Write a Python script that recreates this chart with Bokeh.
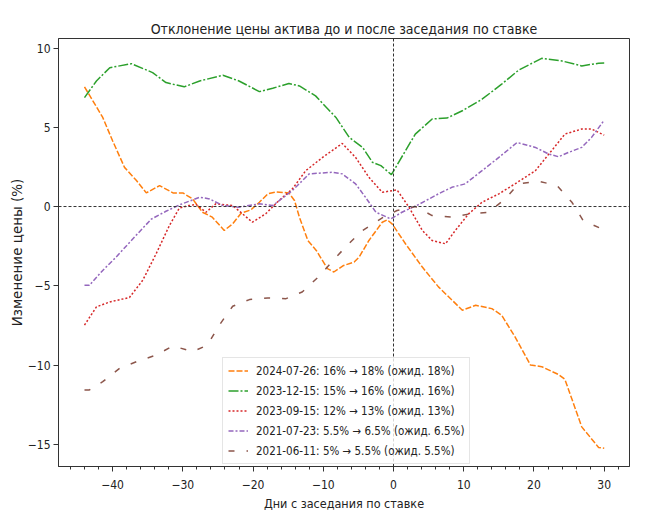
from bokeh.plotting import figure
from bokeh.models import Span, SingleIntervalTicker, CustomJSTickFormatter, Range1d
from bokeh.embed import file_html
from bokeh.resources import INLINE

TITLE = "Отклонение цены актива до и после заседания по ставке"
X_LABEL = "Дни с заседания по ставке"
Y_LABEL = "Изменение цены (%)"

labels = [
    "2024-07-26: 16% \u2192 18% (ожид. 18%)",
    "2023-12-15: 15% \u2192 16% (ожид. 16%)",
    "2023-09-15: 12% \u2192 13% (ожид. 13%)",
    "2021-07-23: 5.5% \u2192 6.5% (ожид. 6.5%)",
    "2021-06-11: 5% \u2192 5.5% (ожид. 5.5%)",
]

days_2024_07 = [-44, -41.4, -40, -38.3, -36.6, -35.2, -33.3, -31.4, -30, -28.6, -27.2, -25.8, -24.1, -22.9,
                -21.7, -20.3, -19.1, -17.9, -16.7, -14.9, -14.1, -13.4, -12.2, -11, -9.4, -8.5, -7.2, -5.6,
                -4.9, -3.5, -1.6, -0.9, -0.2, 1.7, 4.1, 6.4, 9.8, 11.7, 14, 15.4, 17.3, 19.5, 21.1, 23.5,
                24.4, 26.8, 29.2, 30]
vals_2024_07 = [7.55, 5.62, 4.15, 2.47, 1.64, 0.86, 1.32, 0.86, 0.86, 0.48, -0.36, -0.67, -1.51, -1.09,
                -0.42, -0.21, 0.27, 0.8, 0.92, 0.86, 0.38, -0.67, -2.14, -2.77, -3.92, -4.13, -3.74, -3.5,
                -3.19, -2.14, -0.99, -0.84, -1.09, -2.35, -3.82, -5.07, -6.54, -6.23, -6.44, -6.86, -8.22,
                -10.0, -10.1, -10.6, -10.9, -13.9, -15.2, -15.25]

days_2023_12 = [-44, -42.3, -40.4, -37.3, -34.3, -32.4, -29.8, -27.6, -24.3, -22, -19.1, -17.2, -14.9, -13.4,
                -11.1, -8.2, -6.3, -4.4, -3.0, -1.8, -0.3, 1.7, 3.1, 5.5, 7.6, 9.8, 12.6, 15.4, 17.8, 21.1,
                24, 26.8, 29.2, 30]
vals_2023_12 = [6.87, 7.92, 8.76, 9.01, 8.45, 7.82, 7.55, 7.92, 8.28, 7.92, 7.25, 7.46, 7.76, 7.61,
                6.98, 5.62, 4.36, 3.73, 2.79, 2.58, 2.01, 3.52, 4.57, 5.52, 5.58, 6.04, 6.77, 7.72, 8.6, 9.35,
                9.18, 8.87, 9.04, 9.05]

days_2023_09 = [-44, -42.3, -40.4, -37.6, -35.7, -33.8, -31.9, -30.5, -29.1, -28.1, -26.7, -25.3, -22.9,
                -21.5, -20.1, -18.2, -16.3, -14.4, -12.5, -10.1, -7.3, -5.4, -3.5, -1.6, 0.5, 2.2, 4.1, 5.5,
                7.4, 8.8, 10.7, 12.6, 15, 17.3, 20.2, 22.5, 24.4, 26.8, 28.2, 30]
vals_2023_09 = [-7.48, -6.33, -6.02, -5.74, -4.65, -2.98, -1.19, -0.1, 0.06, 0.13, -0.36, 0.17, 0.06,
                -0.46, -0.99, -0.46, 0.38, 1.11, 2.26, 3.1, 3.98, 3.1, 1.84, 0.9, 1.05, -0.04, -1.51, -2.14,
                -2.35, -1.51, -0.46, 0.27, 0.8, 1.43, 2.26, 3.52, 4.57, 4.89, 4.89, 4.5]

days_2021_07 = [-44, -43.3, -41.4, -39.5, -37.1, -34.5, -32.4, -30.5, -29, -27.6, -26.2, -24.3, -22, -19.1,
                -17.2, -14.4, -12, -8.7, -7.3, -5.4, -4, -2.5, -0.4, 1.2, 3.6, 6.4, 8.3, 10.2, 12.6, 15,
                17.6, 20.2, 22.1, 23.5, 24.9, 26.8, 28.2, 30]
vals_2021_07 = [-4.97, -4.97, -4.03, -3.19, -2.03, -0.8, -0.3, 0.1, 0.35, 0.59, 0.48, 0.06, -0.04, 0.17,
                0.06, 1.01, 2.06, 2.16, 2.06, 1.43, 0.59, -0.36, -0.78, -0.36, 0.13, 0.8, 1.21, 1.43, 2.26,
                3.1, 4.04, 3.73, 3.31, 3.14, 3.41, 3.73, 4.36, 5.45]

days_2021_06 = [-44, -43.3, -41.4, -39, -36.6, -33.8, -31.4, -28.6, -26.5, -24.8, -22.9, -20.5, -17.9, -15.3,
                -13, -10.6, -8.5, -6.5, -4.4, -1.6, 0.5, 3.1, 5.5, 8.3, 10.9, 13.5, 15.9, 17.8, 20.7, 23.3,
                25.4, 27, 29.3, 30]
vals_2021_06 = [-11.57, -11.57, -11.05, -10.21, -9.79, -9.37, -8.79, -9.16, -8.74, -7.48, -6.29, -5.87, -5.77,
                -5.81, -5.39, -4.4, -3.35, -2.4, -1.51, -0.71, -0.25, 0.0, -0.57, -0.67, -0.46, -0.36, 0.48,
                1.43, 1.59, 1.32, 0.27, -0.88, -1.34, -1.4]

series = [
    (days_2024_07, vals_2024_07, "#ff7f0e", "6 2"),
    (days_2023_12, vals_2023_12, "#2ca02c", "10 2 2 2"),
    (days_2023_09, vals_2023_09, "#d62728", "2 2"),
    (days_2021_07, vals_2021_07, "#9467bd", "5 2 2 2"),
    (days_2021_06, vals_2021_06, "#8c564b", "6 12"),
]

x_ticks_interval = 10
y_ticks_interval = 5

NARROW = "DejaVu Sans Condensed, Roboto"
TXT = "#222222"

p = figure(width=638, height=515, output_backend="svg", toolbar_location=None,
           x_range=Range1d(-47.7, 33.6), y_range=Range1d(-16.4, 10.6),
           min_border_left=58, min_border_right=9, min_border_top=38, min_border_bottom=49,
           title=TITLE)

p.title.align = "center"
p.title.text_font = NARROW
p.title.text_font_size = "14px"
p.title.text_font_style = "normal"
p.title.text_color = TXT
p.title.standoff = 3

p.xgrid.visible = False
p.ygrid.visible = False
p.outline_line_color = "#333333"
p.outline_line_width = 1

minus_fmt = "return tick < 0 ? '\u2212' + Math.abs(tick) : tick.toString();"

p.xaxis.ticker = SingleIntervalTicker(interval=x_ticks_interval, num_minor_ticks=5)
p.yaxis.ticker = SingleIntervalTicker(interval=y_ticks_interval, num_minor_ticks=0)
for ax in (p.xaxis[0], p.yaxis[0]):
    ax.formatter = CustomJSTickFormatter(code=minus_fmt)
    ax.axis_line_color = "#333333"
    ax.major_tick_line_color = "#333333"
    ax.minor_tick_line_color = "#333333"
    ax.major_tick_out = 5
    ax.major_tick_in = 0
    ax.minor_tick_out = 3
    ax.minor_tick_in = 0
    ax.major_label_text_font = NARROW
    ax.major_label_text_font_size = "12px"
    ax.major_label_text_color = TXT
    ax.axis_label_text_font_style = "normal"
    ax.axis_label_text_color = TXT

p.xaxis.major_label_standoff = 8
p.yaxis.major_label_standoff = 3
p.xaxis.axis_label = X_LABEL
p.xaxis.axis_label_text_font = NARROW
p.xaxis.axis_label_text_font_size = "12.5px"
p.xaxis.axis_label_standoff = 4
p.yaxis.axis_label = Y_LABEL
p.yaxis.axis_label_text_font = "DejaVu Sans"
p.yaxis.axis_label_text_font_size = "13.5px"
p.yaxis.axis_label_standoff = 0

p.add_layout(Span(location=0, dimension="height", line_color="#333333", line_width=1, line_dash="3 2"))
p.add_layout(Span(location=0, dimension="width", line_color="#333333", line_width=1, line_dash="3 2"))

for (xs, ys, color, dash), lab in zip(series, labels):
    p.line(xs, ys, line_color=color, line_width=1.5, line_dash=dash, legend_label=lab)

lg = p.legend[0]
lg.location = (164, 2)
lg.label_text_font = NARROW
lg.label_text_font_size = "11.5px"
lg.label_text_color = TXT
lg.glyph_width = 20
lg.glyph_height = 15
lg.label_height = 15
lg.spacing = 5
lg.padding = 5
lg.margin = 0
lg.label_standoff = 8
lg.border_line_color = "#cccccc"
lg.border_line_width = 1
lg.background_fill_color = "white"
lg.background_fill_alpha = 0.8

open("out.html", "w").write(file_html(p, INLINE))
